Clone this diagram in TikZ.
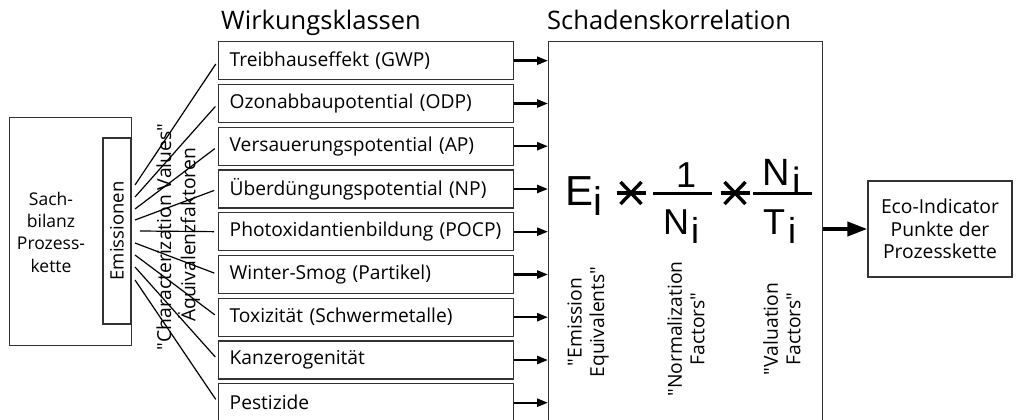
\documentclass[tikz,border=0pt]{standalone}
\usepackage{fontspec}
\setmainfont{Open Sans}[Ligatures=TeXOff]
\newfontfamily\arialf{Liberation Sans}
\usetikzlibrary{arrows.meta,calc}
\begin{document}
\begin{tikzpicture}[x=1pt,y=-1pt,
  box/.style={draw=black!80, line width=1.4pt},
  cls/.style={box, anchor=north west, minimum height=38pt, text width=273pt,
    inner xsep=11pt, inner ysep=0pt, align=left, font=\fontsize{19.2}{22}\selectfont},
  fan/.style={line width=1.2pt, black, shorten >=4pt},
  arr/.style={line width=2.4pt, -{Triangle[length=11pt,width=8pt]}},
  rtext/.style={rotate=90, align=center, inner sep=0pt, font=\fontsize{19.3}{22.5}\selectfont},
  ttl/.style={anchor=base west, inner sep=0pt, font=\fontsize{25.5}{30}\selectfont},
  fx/.style={inner sep=0pt, anchor=base west},
  astk/.style={line width=3.4pt},
  bar/.style={line width=3pt}]
\useasboundingbox (0,0) rectangle (1017,420);
\clip (0,0) rectangle (1017,420);

% titles
\node[ttl] (t1) at (221,30) {Wirkungsklassen};
\node[ttl] (t2) at (547,30) {Schadenskorrelation};

% left boxes
\node[box, anchor=north west, minimum width=122pt, minimum height=228pt, inner sep=0pt] (sach) at (9,117) {};
\node[align=center, inner sep=0pt, font=\fontsize{17.5}{22.3}\selectfont] (sachtxt) at (51,232) {Sach-\\bilanz\\Prozess-\\kette};
\node[box, fill=white, rotate=90, minimum width=186pt, minimum height=28pt, inner sep=0pt,
      font=\fontsize{18.5}{20}\selectfont] (emis) at (117,231) {Emissionen};

% class boxes
\node[cls] (c1) at (218,41.0) {Treibhauseffekt (GWP)};
\node[cls] (c2) at (218,83.8) {Ozonabbaupotential (ODP)};
\node[cls] (c3) at (218,126.5) {Versauerungspotential (AP)};
\node[cls] (c4) at (218,169.3) {Überdüngungspotential (NP)};
\node[cls] (c5) at (218,212.0) {\mbox{Photoxidantienbildung (POCP)}};
\node[cls] (c6) at (218,254.8) {Winter-Smog (Partikel)};
\node[cls] (c7) at (218,297.5) {Toxizität (Schwermetalle)};
\node[cls] (c8) at (218,340.3) {Kanzerogenität};
\node[cls] (c9) at (218,383.0) {Pestizide};

% fan start points
\coordinate (s1) at (135,185);
\coordinate (s2) at (135,197);
\coordinate (s3) at (135,209);
\coordinate (s4) at (135,220);
\coordinate (s5) at (140,231);
\coordinate (s6) at (135,243);
\coordinate (s7) at (135,255);
\coordinate (s8) at (135,267);
\coordinate (s9) at (135,280);
\foreach \i in {1,...,9} \draw[fan] (s\i) -- (c\i.west);

% fan labels
\node[rtext] (cv) at (164,237) {"Characterization Values"};
\node[rtext] (aq) at (189,235) {Äquivalenzfaktoren};

% big box
\node[box, anchor=north west, minimum width=274pt, minimum height=400pt, inner sep=0pt] (big) at (548,41) {};
\foreach \i in {1,...,9} \draw[arr] (c\i.east) -- (c\i.east -| big.west);

% formula
\node[fx, font=\arialf\fontsize{42}{42}\selectfont] (E) at (565,205) {E};
\node[fx, font=\arialf\fontsize{40}{40}\selectfont] (Ei) at (593,215) {i};
\coordinate (a1) at (631,193);
\draw[astk] ($(a1)+(-14.5,0)$) -- ($(a1)+(14.5,0)$);
\draw[astk] ($(a1)+(-10.5,-11)$) -- ($(a1)+(10.5,11)$);
\draw[astk] ($(a1)+(-10.5,11)$) -- ($(a1)+(10.5,-11)$);
\coordinate (b1l) at (653,193); \coordinate (b1r) at (712,193);
\draw[bar] (b1l) -- (b1r);
\node[fx, font=\arialf\fontsize{36}{36}\selectfont] (one) at (676,187) {1};
\node[fx, font=\arialf\fontsize{36}{36}\selectfont] (N1) at (663,234) {N};
\node[fx, font=\arialf\fontsize{36}{36}\selectfont] (N1i) at (691,243) {i};
\coordinate (a2) at (735,193);
\draw[astk] ($(a2)+(-14.5,0)$) -- ($(a2)+(14.5,0)$);
\draw[astk] ($(a2)+(-10.5,-11)$) -- ($(a2)+(10.5,11)$);
\draw[astk] ($(a2)+(-10.5,11)$) -- ($(a2)+(10.5,-11)$);
\coordinate (b2l) at (753,193); \coordinate (b2r) at (812,193);
\draw[bar] (b2l) -- (b2r);
\node[fx, font=\arialf\fontsize{38}{38}\selectfont] (N2) at (762,185) {N};
\node[fx, font=\arialf\fontsize{38}{38}\selectfont] (N2i) at (792,194) {i};
\node[fx, font=\arialf\fontsize{36}{36}\selectfont] (T2) at (763,234) {T};
\node[fx, font=\arialf\fontsize{36}{36}\selectfont] (T2i) at (788,243) {i};

% labels in big box
\node[rtext] (ee) at (588,322) {"Emission\\Equivalents"};
\node[rtext] (nf) at (686,329) {"Normalization\\Factors"};
\node[rtext] (vf) at (782,329) {"Valuation\\Factors"};

% eco box
\node[box, minimum width=144pt, minimum height=96pt, align=center, inner sep=0pt,
      font=\fontsize{19.3}{22.5}\selectfont] (eco) at (940,229) {Eco-Indicator\\Punkte der\\Prozesskette};
\draw[line width=4pt, -{Triangle[length=20pt,width=14pt]}] (eco.west -| big.east) -- (eco.west);
\end{tikzpicture}
\end{document}
